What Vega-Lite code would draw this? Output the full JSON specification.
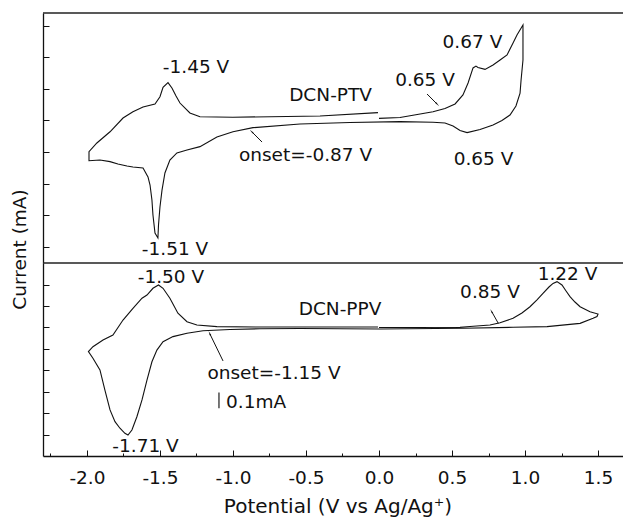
{
  "$schema": "https://vega.github.io/schema/vega-lite/v6.json",
  "width": 580,
  "height": 443,
  "autosize": {"type": "none"},
  "padding": {"left": 43, "top": 13, "right": 0, "bottom": 63},
  "background": "white",
  "config": {
    "view": {"stroke": null},
    "font": "DejaVu Sans",
    "axis": {
      "domainColor": "#111",
      "domainWidth": 1.3,
      "tickColor": "#111",
      "tickWidth": 1,
      "labelColor": "#111",
      "titleColor": "#111",
      "labelFont": "DejaVu Sans",
      "titleFont": "DejaVu Sans",
      "titleFontWeight": "normal",
      "grid": false
    }
  },
  "datasets": {
    "ptv": [
      {"step": 1, "V": 0.000, "I": 0.213}, {"step": 2, "V": 0.144, "I": 0.218}, {"step": 3, "V": 0.370, "I": 0.255},
      {"step": 4, "V": 0.452, "I": 0.275}, {"step": 5, "V": 0.521, "I": 0.304}, {"step": 6, "V": 0.575, "I": 0.361},
      {"step": 7, "V": 0.610, "I": 0.437}, {"step": 8, "V": 0.644, "I": 0.532}, {"step": 9, "V": 0.664, "I": 0.544},
      {"step": 10, "V": 0.678, "I": 0.535}, {"step": 11, "V": 0.726, "I": 0.523}, {"step": 12, "V": 0.781, "I": 0.551},
      {"step": 13, "V": 0.829, "I": 0.582}, {"step": 14, "V": 0.877, "I": 0.614}, {"step": 15, "V": 0.918, "I": 0.690},
      {"step": 16, "V": 0.945, "I": 0.741}, {"step": 17, "V": 0.986, "I": 0.804}, {"step": 18, "V": 0.986, "I": 0.709},
      {"step": 19, "V": 0.986, "I": 0.582}, {"step": 20, "V": 0.973, "I": 0.456}, {"step": 21, "V": 0.966, "I": 0.373},
      {"step": 22, "V": 0.938, "I": 0.291}, {"step": 23, "V": 0.897, "I": 0.234}, {"step": 24, "V": 0.842, "I": 0.199},
      {"step": 25, "V": 0.781, "I": 0.171}, {"step": 26, "V": 0.692, "I": 0.142}, {"step": 27, "V": 0.603, "I": 0.123},
      {"step": 28, "V": 0.555, "I": 0.136}, {"step": 29, "V": 0.507, "I": 0.165}, {"step": 30, "V": 0.452, "I": 0.184},
      {"step": 31, "V": 0.370, "I": 0.188}, {"step": 32, "V": 0.144, "I": 0.192}, {"step": 33, "V": -0.199, "I": 0.187},
      {"step": 34, "V": -0.541, "I": 0.177}, {"step": 35, "V": -0.863, "I": 0.154}, {"step": 36, "V": -1.000, "I": 0.128},
      {"step": 37, "V": -1.110, "I": 0.095}, {"step": 38, "V": -1.226, "I": 0.034}, {"step": 39, "V": -1.315, "I": 0.013},
      {"step": 40, "V": -1.384, "I": -0.006}, {"step": 41, "V": -1.432, "I": -0.051}, {"step": 42, "V": -1.466, "I": -0.133},
      {"step": 43, "V": -1.486, "I": -0.241}, {"step": 44, "V": -1.500, "I": -0.348}, {"step": 45, "V": -1.510, "I": -0.462},
      {"step": 46, "V": -1.514, "I": -0.544}, {"step": 47, "V": -1.534, "I": -0.513}, {"step": 48, "V": -1.548, "I": -0.399},
      {"step": 49, "V": -1.555, "I": -0.304}, {"step": 50, "V": -1.568, "I": -0.209}, {"step": 51, "V": -1.582, "I": -0.158},
      {"step": 52, "V": -1.616, "I": -0.101}, {"step": 53, "V": -1.685, "I": -0.095}, {"step": 54, "V": -1.726, "I": -0.089},
      {"step": 55, "V": -1.788, "I": -0.076}, {"step": 56, "V": -1.842, "I": -0.061}, {"step": 57, "V": -1.911, "I": -0.051},
      {"step": 58, "V": -1.986, "I": -0.055}, {"step": 59, "V": -1.986, "I": -0.019}, {"step": 60, "V": -1.986, "I": 0.002},
      {"step": 61, "V": -1.932, "I": 0.057}, {"step": 62, "V": -1.842, "I": 0.128}, {"step": 63, "V": -1.753, "I": 0.215},
      {"step": 64, "V": -1.685, "I": 0.255}, {"step": 65, "V": -1.616, "I": 0.285}, {"step": 66, "V": -1.534, "I": 0.304},
      {"step": 67, "V": -1.500, "I": 0.350}, {"step": 68, "V": -1.479, "I": 0.409}, {"step": 69, "V": -1.445, "I": 0.439},
      {"step": 70, "V": -1.418, "I": 0.405}, {"step": 71, "V": -1.390, "I": 0.354}, {"step": 72, "V": -1.363, "I": 0.310},
      {"step": 73, "V": -1.295, "I": 0.247}, {"step": 74, "V": -1.226, "I": 0.223}, {"step": 75, "V": -1.000, "I": 0.220},
      {"step": 76, "V": -0.404, "I": 0.228}, {"step": 77, "V": -0.007, "I": 0.249}
    ],
    "ppv": [
      {"step": 1, "V": 0.000, "I": -0.001}, {"step": 2, "V": 0.281, "I": -0.001}, {"step": 3, "V": 0.555, "I": 0.000},
      {"step": 4, "V": 0.760, "I": 0.015}, {"step": 5, "V": 0.829, "I": 0.029}, {"step": 6, "V": 0.918, "I": 0.057},
      {"step": 7, "V": 0.979, "I": 0.091}, {"step": 8, "V": 1.034, "I": 0.130}, {"step": 9, "V": 1.082, "I": 0.173},
      {"step": 10, "V": 1.123, "I": 0.215}, {"step": 11, "V": 1.164, "I": 0.255}, {"step": 12, "V": 1.192, "I": 0.278},
      {"step": 13, "V": 1.219, "I": 0.289}, {"step": 14, "V": 1.253, "I": 0.268}, {"step": 15, "V": 1.281, "I": 0.230},
      {"step": 16, "V": 1.308, "I": 0.194}, {"step": 17, "V": 1.342, "I": 0.160}, {"step": 18, "V": 1.377, "I": 0.130},
      {"step": 19, "V": 1.445, "I": 0.099}, {"step": 20, "V": 1.500, "I": 0.084}, {"step": 21, "V": 1.493, "I": 0.068},
      {"step": 22, "V": 1.466, "I": 0.057}, {"step": 23, "V": 1.377, "I": 0.025}, {"step": 24, "V": 1.151, "I": 0.004},
      {"step": 25, "V": 0.918, "I": 0.000}, {"step": 26, "V": 0.575, "I": -0.006}, {"step": 27, "V": 0.007, "I": -0.011},
      {"step": 28, "V": -0.541, "I": -0.008}, {"step": 29, "V": -0.815, "I": -0.009}, {"step": 30, "V": -1.021, "I": -0.014},
      {"step": 31, "V": -1.205, "I": -0.022}, {"step": 32, "V": -1.315, "I": -0.038}, {"step": 33, "V": -1.411, "I": -0.059},
      {"step": 34, "V": -1.479, "I": -0.091}, {"step": 35, "V": -1.521, "I": -0.144}, {"step": 36, "V": -1.555, "I": -0.218},
      {"step": 37, "V": -1.589, "I": -0.334}, {"step": 38, "V": -1.623, "I": -0.460}, {"step": 39, "V": -1.658, "I": -0.566},
      {"step": 40, "V": -1.692, "I": -0.650}, {"step": 41, "V": -1.719, "I": -0.682}, {"step": 42, "V": -1.740, "I": -0.671},
      {"step": 43, "V": -1.774, "I": -0.639}, {"step": 44, "V": -1.808, "I": -0.597}, {"step": 45, "V": -1.842, "I": -0.523},
      {"step": 46, "V": -1.877, "I": -0.397}, {"step": 47, "V": -1.911, "I": -0.270}, {"step": 48, "V": -1.959, "I": -0.196},
      {"step": 49, "V": -1.990, "I": -0.154}, {"step": 50, "V": -1.959, "I": -0.123}, {"step": 51, "V": -1.890, "I": -0.080},
      {"step": 52, "V": -1.822, "I": -0.049}, {"step": 53, "V": -1.753, "I": 0.046}, {"step": 54, "V": -1.685, "I": 0.120},
      {"step": 55, "V": -1.623, "I": 0.184}, {"step": 56, "V": -1.589, "I": 0.204}, {"step": 57, "V": -1.548, "I": 0.247},
      {"step": 58, "V": -1.510, "I": 0.268}, {"step": 59, "V": -1.479, "I": 0.247}, {"step": 60, "V": -1.432, "I": 0.184},
      {"step": 61, "V": -1.377, "I": 0.089}, {"step": 62, "V": -1.315, "I": 0.035}, {"step": 63, "V": -1.247, "I": 0.015},
      {"step": 64, "V": -1.110, "I": 0.004}, {"step": 65, "V": -0.815, "I": 0.002}, {"step": 66, "V": -0.007, "I": 0.002}
    ],
    "labels": [
      {"panel": "top", "label": "-1.45 V", "V": -1.253, "I": 0.498},
      {"panel": "top", "label": "-1.51 V", "V": -1.397, "I": -0.655},
      {"panel": "top", "label": "DCN-PTV", "V": -0.332, "I": 0.325},
      {"panel": "top", "label": "onset=-0.87 V", "V": -0.503, "I": -0.054},
      {"panel": "top", "label": "0.67 V", "V": 0.640, "I": 0.656},
      {"panel": "top", "label": "0.65 V", "V": 0.315, "I": 0.420},
      {"panel": "top", "label": "0.65 V", "V": 0.716, "I": -0.082},
      {"panel": "bottom", "label": "-1.50 V", "V": -1.425, "I": 0.278},
      {"panel": "bottom", "label": "-1.71 V", "V": -1.599, "I": -0.787},
      {"panel": "bottom", "label": "DCN-PPV", "V": -0.267, "I": 0.078},
      {"panel": "bottom", "label": "onset=-1.15 V", "V": -0.719, "I": -0.327},
      {"panel": "bottom", "label": "0.1mA", "V": -0.842, "I": -0.513},
      {"panel": "bottom", "label": "0.85 V", "V": 0.760, "I": 0.184},
      {"panel": "bottom", "label": "1.22 V", "V": 1.291, "I": 0.299}
    ],
    "arrows": [
      {"name": "a1", "panel": "top", "V": -0.870, "I": 0.127, "V2": -0.801, "I2": 0.063},
      {"name": "a2", "panel": "top", "V": 0.397, "I": 0.304, "V2": 0.329, "I2": 0.367},
      {"name": "a3", "panel": "bottom", "V": -1.158, "I": -0.042, "V2": -1.068, "I2": -0.213},
      {"name": "a4", "panel": "bottom", "V": 0.772, "I": 0.099, "V2": 0.817, "I2": 0.025}
    ],
    "scalebar": [
      {"V": -1.096, "I": -0.413, "I2": -0.513}
    ],
    "topframe": [
      {"edge": "top", "I": 0.8797},
      {"edge": "divider", "I": -0.7025}
    ]
  },
  "layer": [
    {
      "encoding": {
        "y": {
          "field": "I", "type": "quantitative",
          "scale": {"domain": [-0.7025, 0.8797], "range": [250, 0], "nice": false, "zero": false},
          "axis": {
            "orient": "left",
            "title": "Current (mA)",
            "labels": false,
            "values": [-0.6, -0.4, -0.2, 0, 0.2, 0.4, 0.6, 0.8],
            "tickSize": -6,
            "titleFontSize": 18.5,
            "titleX": -18,
            "titleY": 236,
            "titleAngle": 270,
            "titleBaseline": "alphabetic",
            "titleAlign": "center"
          }
        }
      },
      "layer": [
        {
          "data": {"name": "ptv"},
          "mark": {"type": "line", "color": "#111", "strokeWidth": 1.1},
          "encoding": {
            "x": {
              "field": "V", "type": "quantitative",
              "scale": {"domain": [-2.301, 1.671], "nice": false, "zero": false},
              "axis": {
                "orient": "bottom",
                "title": "Potential (V vs Ag/Ag⁺)",
                "values": [-2, -1.5, -1, -0.5, 0, 0.5, 1, 1.5],
                "labelExpr": "replace(format(datum.value, '.1f'), '\u2212', '-')",
                "tickSize": -6,
                "labelFontSize": 18.5,
                "labelBaseline": "alphabetic",
                "labelPadding": 33,
                "labelFlush": false,
                "labelOverlap": false,
                "titleFontSize": 20,
                "titleX": 294.5,
                "titleY": 56,
                "titleBaseline": "alphabetic",
                "titleAlign": "center"
              }
            },
            "order": {"field": "step"}
          }
        },
        {
          "data": {"name": "labels"},
          "transform": [{"filter": "datum.panel === 'top'"}],
          "mark": {"type": "text", "font": "DejaVu Sans", "fontSize": 18.5, "align": "center", "baseline": "alphabetic", "color": "#111"},
          "encoding": {
            "x": {"field": "V", "type": "quantitative"},
            "text": {"field": "label"}
          }
        },
        {
          "data": {"name": "arrows"},
          "transform": [{"filter": "datum.panel === 'top'"}],
          "mark": {"type": "rule", "color": "#111", "strokeWidth": 1},
          "encoding": {
            "x": {"field": "V", "type": "quantitative"},
            "x2": {"field": "V2"},
            "y2": {"field": "I2"}
          }
        },
        {
          "data": {"name": "arrows"},
          "transform": [{"filter": "datum.name === 'a1'"}],
          "mark": {"type": "point", "shape": "wedge", "filled": true, "color": "#111", "size": 30, "angle": -45, "opacity": 1},
          "encoding": {"x": {"field": "V", "type": "quantitative"}}
        },
        {
          "data": {"name": "arrows"},
          "transform": [{"filter": "datum.name === 'a2'"}],
          "mark": {"type": "point", "shape": "wedge", "filled": true, "color": "#111", "size": 30, "angle": 135, "opacity": 1},
          "encoding": {"x": {"field": "V", "type": "quantitative"}}
        },
        {
          "data": {"name": "topframe"},
          "mark": {"type": "rule", "color": "#222", "strokeWidth": 1.4}
        }
      ]
    },
    {
      "encoding": {
        "y": {
          "field": "I", "type": "quantitative",
          "scale": {"domain": [-0.8146, 0.4070], "range": [443, 250], "nice": false, "zero": false},
          "axis": {
            "orient": "left",
            "title": null,
            "labels": false,
            "values": [0.268, 0.134, 0, -0.137, -0.272, -0.41, -0.545, -0.68],
            "tickSize": -6
          }
        }
      },
      "layer": [
        {
          "data": {"name": "ppv"},
          "mark": {"type": "line", "color": "#111", "strokeWidth": 1.1},
          "encoding": {
            "x": {
              "field": "V", "type": "quantitative",
              "axis": {
                "orient": "bottom",
                "title": null,
                "labels": false,
                "domain": false,
                "values": [-2.25, -1.75, -1.25, -0.75, -0.25, 0.25, 0.75, 1.25],
                "tickSize": -3
              }
            },
            "order": {"field": "step"}
          }
        },
        {
          "data": {"name": "labels"},
          "transform": [{"filter": "datum.panel === 'bottom'"}],
          "mark": {"type": "text", "font": "DejaVu Sans", "fontSize": 18.5, "align": "center", "baseline": "alphabetic", "color": "#111"},
          "encoding": {
            "x": {"field": "V", "type": "quantitative"},
            "text": {"field": "label"}
          }
        },
        {
          "data": {"name": "arrows"},
          "transform": [{"filter": "datum.panel === 'bottom'"}],
          "mark": {"type": "rule", "color": "#111", "strokeWidth": 1},
          "encoding": {
            "x": {"field": "V", "type": "quantitative"},
            "x2": {"field": "V2"},
            "y2": {"field": "I2"}
          }
        },
        {
          "data": {"name": "arrows"},
          "transform": [{"filter": "datum.name === 'a3'"}],
          "mark": {"type": "point", "shape": "wedge", "filled": true, "color": "#111", "size": 30, "angle": -26, "opacity": 1},
          "encoding": {"x": {"field": "V", "type": "quantitative"}}
        },
        {
          "data": {"name": "arrows"},
          "transform": [{"filter": "datum.name === 'a4'"}],
          "mark": {"type": "point", "shape": "wedge", "filled": true, "color": "#111", "size": 30, "angle": -30, "opacity": 1},
          "encoding": {"x": {"field": "V", "type": "quantitative"}}
        },
        {
          "data": {"name": "scalebar"},
          "mark": {"type": "rule", "color": "#555", "strokeWidth": 1.6},
          "encoding": {
            "x": {"field": "V", "type": "quantitative"},
            "y2": {"field": "I2"}
          }
        }
      ]
    }
  ],
  "resolve": {"scale": {"y": "independent"}, "axis": {"x": "independent", "y": "independent"}}
}
